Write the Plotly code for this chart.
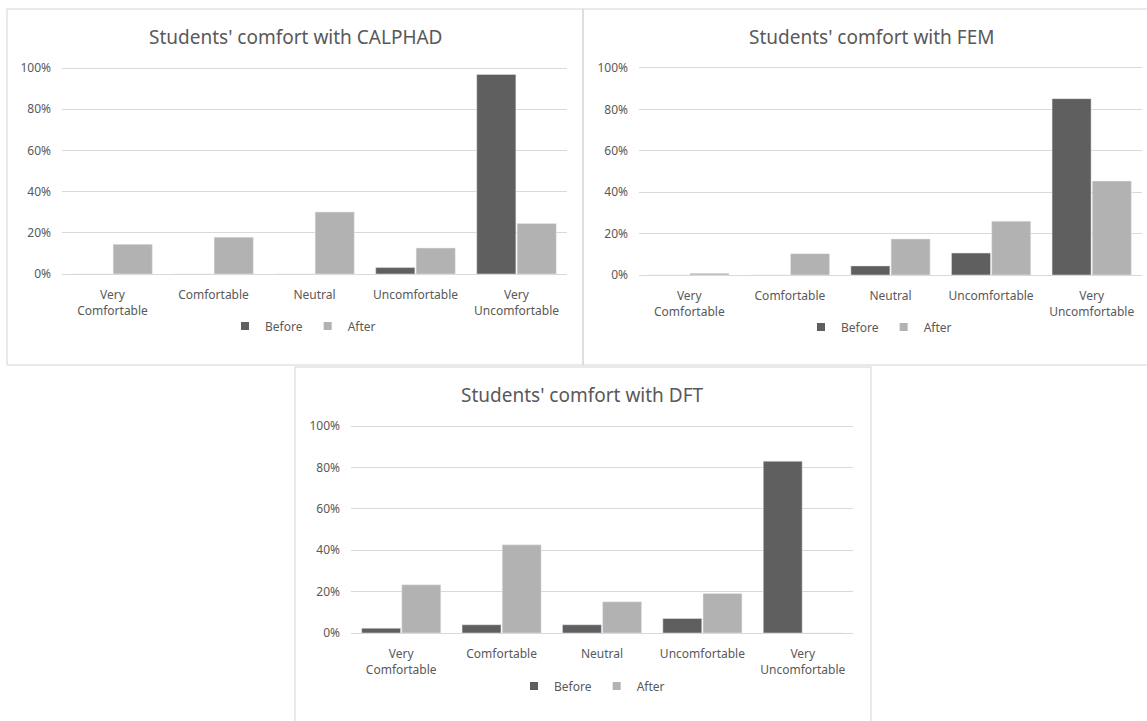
import plotly.graph_objects as go

W, H = 1147, 721

categories = ["Very<br>Comfortable", "Comfortable", "Neutral", "Uncomfortable", "Very<br>Uncomfortable"]

calphad_before = [0, 0, 0, 3.1, 96.9]
calphad_after = [14.4, 17.9, 30.1, 12.6, 24.5]

fem_before = [0, 0, 4.4, 10.6, 85.2]
fem_after = [0.8, 10.3, 17.4, 26.0, 45.4]

dft_before = [2.3, 4.0, 4.0, 7.0, 83.0]
dft_after = [23.3, 42.6, 15.1, 19.1, 0]

titles = ["Students' comfort with CALPHAD", "Students' comfort with FEM", "Students' comfort with DFT"]
series_names = ["Before", "After"]

BEFORE_COLOR = "#5f5f5f"
AFTER_COLOR = "#b2b2b2"
TEXT_COLOR = "#595959"
GRID_COLOR = "#d9d9d9"
BORDER_COLOR = "#d4d4d4"
FONT = "Noto Sans"
Y_TOP = 100.5  # a little headroom so the 100% gridline is drawn


def px_x(v):
    return v / W


def px_y(v):
    return 1 - v / H


# panel geometry in pixels: box (l, t, r, b), plot area (l, t, r, b), legend centre
panels = [
    dict(box=(7, 9, 583, 365), plot=(62, 68, 567, 274), leg_x=303, leg_y=326),
    dict(box=(583, 9, 1159, 365), plot=(639, 68, 1142, 275), leg_x=879, leg_y=327),
    dict(box=(295, 367, 871, 740), plot=(351, 426, 853, 633), leg_x=592, leg_y=686),
]

series = [
    (calphad_before, calphad_after),
    (fem_before, fem_after),
    (dft_before, dft_after),
]

fig = go.Figure()
shapes = []
annotations = []

for i, (panel, values, title) in enumerate(zip(panels, series, titles)):
    n = "" if i == 0 else str(i + 1)
    xa, ya = "x" + n, "y" + n
    leg = "legend" + n
    for name, vals, color in zip(series_names, values, [BEFORE_COLOR, AFTER_COLOR]):
        fig.add_trace(go.Bar(x=categories, y=vals, name=name, marker_color=color,
                             xaxis=xa, yaxis=ya, showlegend=False, legendgroup=name + n))
        # small square legend key
        fig.add_trace(go.Scatter(x=[None], y=[None], mode="markers", name=name,
                                 marker=dict(symbol="square", size=8, color=color),
                                 xaxis=xa, yaxis=ya, legend=leg, legendgroup=name + n))

    pl, pt, pr, pb = panel["plot"]
    top_px = pb - (pb - pt) * Y_TOP / 100
    axis_common = dict(tickfont=dict(family=FONT, size=12, color=TEXT_COLOR), automargin=False)
    fig.layout["xaxis" + n] = dict(
        domain=[px_x(pl), px_x(pr)], anchor=ya, showgrid=False, showline=True,
        linecolor=GRID_COLOR, linewidth=1, ticks="", ticklabelstandoff=10,
        fixedrange=True, **axis_common)
    fig.layout["yaxis" + n] = dict(
        domain=[px_y(pb), px_y(top_px)], anchor=xa, range=[0, Y_TOP],
        tickvals=[0, 20, 40, 60, 80, 100], ticktext=["0%", "20%", "40%", "60%", "80%", "100%"],
        showgrid=True, gridcolor=GRID_COLOR, gridwidth=1,
        zeroline=False, showline=False, ticks="", ticklabelstandoff=10,
        fixedrange=True, **axis_common)

    fig.layout[leg] = dict(
        orientation="h", x=px_x(panel["leg_x"]), y=px_y(panel["leg_y"]),
        xanchor="center", yanchor="middle", bgcolor="rgba(0,0,0,0)",
        font=dict(family=FONT, size=12, color=TEXT_COLOR), itemwidth=30,
        tracegroupgap=0, traceorder="normal")

    bl, bt, br, bb = panel["box"]
    shapes.append(dict(type="rect", xref="paper", yref="paper",
                       x0=px_x(bl), x1=px_x(br), y0=px_y(bb), y1=px_y(bt),
                       line=dict(color=BORDER_COLOR, width=1), fillcolor="rgba(0,0,0,0)",
                       layer="below"))
    annotations.append(dict(text=title, xref="paper", yref="paper",
                            x=px_x((bl + br) / 2), y=px_y(bt + 28), xanchor="center",
                            yanchor="middle", showarrow=False,
                            font=dict(family=FONT, size=19, color=TEXT_COLOR)))

fig.update_layout(
    width=W, height=H, margin=dict(l=0, r=0, t=0, b=0, pad=0, autoexpand=False),
    paper_bgcolor="white", plot_bgcolor="white",
    barmode="group", bargap=0.2, bargroupgap=0.03,
    shapes=shapes, annotations=annotations,
    font=dict(family=FONT, color=TEXT_COLOR),
)

fig.write_html("out.html", post_script="document.body.style.margin='0';")
